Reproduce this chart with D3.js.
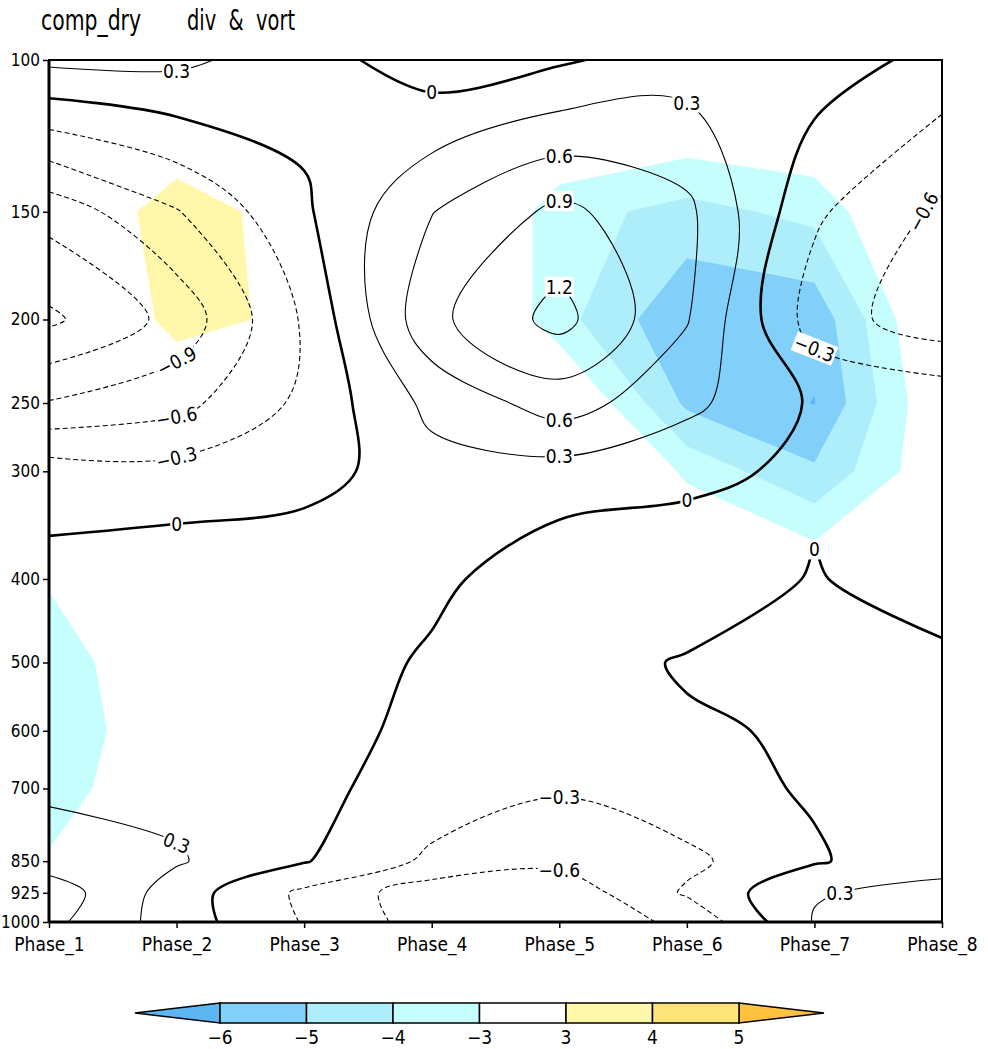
<!DOCTYPE html>
<html>
<head>
<meta charset="utf-8">
<script src="https://cdn.jsdelivr.net/npm/d3@7"></script>
<style>
  body { margin: 0; background: #fff; }
  svg text { font-family: "Liberation Sans Narrow", "DejaVu Sans Condensed", "Liberation Sans", sans-serif; fill: #000; }
</style>
</head>
<body>
<svg id="chart" width="988" height="1049"></svg>
<script>
const phases = ["Phase_1", "Phase_2", "Phase_3", "Phase_4", "Phase_5", "Phase_6", "Phase_7", "Phase_8"];
const levels = [100, 150, 200, 250, 300, 400, 500, 600, 700, 850, 925, 1000];

// divergence (contours), one array per phase, 100 hPa down to 1000 hPa
const divPhase1 = [0.367, -1.09, -1.56, -0.88, -0.15, 0.10, 0.15, 0.20, 0.25, 0.45, 0.78, 0.68];
const divPhase2 = [0.37, -0.62, -1.10, -0.70, -0.20, 0.21, 0.22, 0.22, 0.21, 0.33, 0.15, 0.15];
const divPhase3 = [0.126, -0.047, -0.26, -0.23, -0.13, 0.25, 0.21, 0.15, 0.07, 0.02, -0.36, -0.32];
const divPhase4 = [-0.16, 0.59, 0.82, 0.38, 0.19, 0.08, -0.05, -0.10, -0.12, -0.36, -0.77, -0.74];
const divPhase5 = [-0.04, 0.97, 1.30, 0.74, 0.18, -0.22, -0.088, -0.15, -0.27, -0.52, -0.80, -0.75];
const divPhase6 = [0.155, 0.67, 0.62, 0.38, 0.05, -0.135, 0.018, -0.022, -0.10, -0.37, -0.26, -0.55];
const divPhase7 = [0.16, -0.25, -0.44, -0.04, -0.04, 0.015, 0.06, 0.022, 0.028, -0.03, 0.28, 0.32];
const divPhase8 = [-0.10, -0.66, -0.79, -0.07, -0.10, -0.12, 0.05, 0.10, 0.15, 0.20, 0.38, 0.35];

// vorticity (shading), one array per phase, 100 hPa down to 1000 hPa
const vortPhase1 = [0.5, 1.66, 0.56, 0.2, -0.5, -2.9, -3.6, -3.8, -3.5, -2.9, -2.0, -1.5];
const vortPhase2 = [0.87, 3.6, 3.5, 1.65, 0.5, -1.0, -1.93, -2.04, -2.03, -1.5, -1.0, -0.8];
const vortPhase3 = [0.8, 2.42, 2.65, 1.5, 0.5, -0.5, -1.0, -1.0, -0.8, -0.5, -0.3, -0.2];
const vortPhase4 = [0.2, -0.74, -0.63, -0.8, 0.0, 0.5, 0.3, 0.0, -0.5, -0.5, -0.3, -0.2];
const vortPhase5 = [-0.27, -3.6, -3.63, -1.5, 0.5, 0.3, 0.0, -0.5, -0.5, -0.3, -0.2, 0.0];
const vortPhase6 = [-0.55, -4.35, -5.86, -5.2, -3.3, -0.7, 0.0, 0.2, -0.3, -0.5, -0.3, -0.2];
const vortPhase7 = [-0.62, -3.71, -5.67, -6.03, -4.85, -2.0, -0.5, 0.0, -0.5, -1.0, -0.5, -0.3];
const vortPhase8 = [-0.3, -1.08, -1.5, -1.9, -2.1, -1.0, -0.5, -0.3, -0.3, -0.3, -0.2, 0.0];

const contourLevels = [-1.5, -1.2, -0.9, -0.6, -0.3, 0, 0.3, 0.6, 0.9, 1.2];
const shadeBreaks = [-6, -5, -4, -3, 3, 4, 5];
const shadeColors = ["#5cb6f2", "#82d0fa", "#aeeefa", "#c6fdfd", "#ffffff", "#fff8aa", "#ffe47a", "#ffc23f"];

// contour labels: value, phase number, pressure near which the label sits
const labelValues = [0.3, 0, 0.3, 0.6, 0.9, 1.2, 0.6, 0.3, -0.6, -0.3, 0, 0, 0, -0.9, -0.6, -0.3, 0.3, -0.3, -0.6, 0.3];
const labelPhases = [2, 4, 6, 5, 5, 5, 5, 5, 7.85, 7, 6, 7, 2, 2, 2, 2, 2, 5, 5, 7.2];
const labelPres = [106, 109, 112, 132, 146, 184, 260, 287, 150, 217, 324, 373, 345, 225, 260, 290, 810, 718, 868, 925];

const div = [divPhase1, divPhase2, divPhase3, divPhase4, divPhase5, divPhase6, divPhase7, divPhase8];
const vort = [vortPhase1, vortPhase2, vortPhase3, vortPhase4, vortPhase5, vortPhase6, vortPhase7, vortPhase8];
const nx = phases.length, ny = levels.length;

const svg = d3.select("#chart");
const margin = {top: 60, right: 46, bottom: 127, left: 49};
const width = +svg.attr("width") - margin.left - margin.right;
const height = +svg.attr("height") - margin.top - margin.bottom;
const g = svg.append("g").attr("transform", `translate(${margin.left},${margin.top})`);

const x = d3.scalePoint().domain(phases).range([0, width]);
const y = d3.scaleLog().domain([100, 1000]).range([0, height]);
// grid index -> pixel, linear between neighbouring grid lines
const xIdx = d3.scaleLinear().domain([0, nx - 1]).range([x(phases[0]), x(phases[nx - 1])]);
const yIdx = d3.scaleLinear().domain(d3.range(ny)).range(levels.map(p => y(p)));

g.append("clipPath").attr("id", "plot-clip")
  .append("rect").attr("width", width).attr("height", height);
const plot = g.append("g").attr("clip-path", "url(#plot-clip)");

// shading with d3.contours on the raw grid
const clampX = v => Math.max(0, Math.min(nx - 1, v));
const clampY = v => Math.max(0, Math.min(ny - 1, v));
const gridPath = d3.geoPath(d3.geoTransform({
  point(px, py) { this.stream.point(xIdx(clampX(px - 0.5)), yIdx(clampY(py - 0.5))); }
}));
function gridValues(field, sign) {
  const vals = [];
  for (let j = 0; j < ny; j++) for (let i = 0; i < nx; i++) vals.push(sign * field[i][j]);
  return vals;
}
const negShades = d3.contours().size([nx, ny]).thresholds([3, 4, 5, 6])(gridValues(vort, -1));
const posShades = d3.contours().size([nx, ny]).thresholds([3, 4, 5])(gridValues(vort, 1));

plot.selectAll(".neg").data(negShades).join("path")
  .attr("class", "neg")
  .attr("d", gridPath)
  .attr("fill", d => shadeColors[shadeBreaks.indexOf(-d.value)])
  .attr("stroke", "none");

plot.selectAll(".pos").data(posShades).join("path")
  .attr("class", "pos")
  .attr("d", gridPath)
  .attr("fill", d => shadeColors[shadeBreaks.indexOf(d.value) + 1])
  .attr("stroke", "none");

// contour lines: marching squares, saddles resolved by the cell mean
function isolines(field, level) {
  const val = (i, j) => field[i][j];
  const points = new Map();
  const hKey = (i, j) => {
    const k = `h${i}_${j}`;
    if (!points.has(k)) points.set(k, [i + (level - val(i, j)) / (val(i + 1, j) - val(i, j)), j]);
    return k;
  };
  const vKey = (i, j) => {
    const k = `v${i}_${j}`;
    if (!points.has(k)) points.set(k, [i, j + (level - val(i, j)) / (val(i, j + 1) - val(i, j))]);
    return k;
  };
  const segs = [];
  for (let j = 0; j < ny - 1; j++) {
    for (let i = 0; i < nx - 1; i++) {
      const a = val(i, j), b = val(i + 1, j), c = val(i + 1, j + 1), d = val(i, j + 1);
      const code = (a >= level) * 8 + (b >= level) * 4 + (c >= level) * 2 + (d >= level);
      if (code === 0 || code === 15) continue;
      const T = () => hKey(i, j), B = () => hKey(i, j + 1), L = () => vKey(i, j), R = () => vKey(i + 1, j);
      const midAbove = (a + b + c + d) / 4 >= level;
      switch (code) {
        case 1: case 14: segs.push([L(), B()]); break;
        case 2: case 13: segs.push([B(), R()]); break;
        case 3: case 12: segs.push([L(), R()]); break;
        case 4: case 11: segs.push([T(), R()]); break;
        case 6: case 9: segs.push([T(), B()]); break;
        case 7: case 8: segs.push([L(), T()]); break;
        case 5:
          if (midAbove) { segs.push([L(), T()]); segs.push([B(), R()]); }
          else { segs.push([T(), R()]); segs.push([L(), B()]); }
          break;
        case 10:
          if (midAbove) { segs.push([T(), R()]); segs.push([L(), B()]); }
          else { segs.push([L(), T()]); segs.push([B(), R()]); }
          break;
      }
    }
  }
  const adj = new Map();
  segs.forEach((s, n) => s.forEach(k => {
    if (!adj.has(k)) adj.set(k, []);
    adj.get(k).push(n);
  }));
  const used = segs.map(() => false);
  function walk(startKey, n0) {
    const keys = [startKey];
    let key = startKey, n = n0;
    while (n != null && !used[n]) {
      used[n] = true;
      key = segs[n][0] === key ? segs[n][1] : segs[n][0];
      keys.push(key);
      n = adj.get(key).find(m => !used[m]);
    }
    return keys;
  }
  const chains = [];
  adj.forEach((list, k) => {
    if (list.length === 1 && !used[list[0]]) chains.push({closed: false, keys: walk(k, list[0])});
  });
  segs.forEach((s, n) => {
    if (!used[n]) chains.push({closed: true, keys: walk(s[0], n).slice(0, -1)});
  });
  return chains.map(ch => ({
    closed: ch.closed,
    points: ch.keys.map(k => points.get(k)).map(([i, j]) => [xIdx(i), yIdx(j)])
  }));
}

const openLine = d3.line().curve(d3.curveCatmullRom.alpha(0.5));
const closedLine = d3.line().curve(d3.curveCatmullRomClosed.alpha(0.5));
const linesByLevel = new Map();
contourLevels.forEach(level => {
  const chains = isolines(div, level);
  linesByLevel.set(level, chains);
  plot.append("g")
    .selectAll("path").data(chains).join("path")
    .attr("d", d => (d.closed ? closedLine : openLine)(d.points))
    .attr("fill", "none")
    .attr("stroke", "#000")
    .attr("stroke-width", level === 0 ? 2.6 : 1.1)
    .attr("stroke-dasharray", level < 0 ? "5,3" : null)
    .attr("stroke-linejoin", "round");
});

// contour labels (some follow the line, the rest stay upright)
const followLine = [false, false, false, false, false, false, false, false, true, true, false, false, false, true, true, true, true, false, false, false];
const fmt = d3.format(".1f");
labelValues.forEach((v, n) => {
  const tx = xIdx(labelPhases[n] - 1), ty = y(labelPres[n]);
  let best = null, bestD = Infinity;
  (linesByLevel.get(v) || []).forEach(ch => ch.points.forEach((p, k) => {
    const dd = (p[0] - tx) ** 2 + (p[1] - ty) ** 2;
    if (dd < bestD) { bestD = dd; best = {ch, k}; }
  }));
  if (!best) return;
  const pts = best.ch.points, k = best.k, m = pts.length;
  const prev = pts[k > 0 ? k - 1 : (best.ch.closed ? m - 1 : k)];
  const next = pts[k < m - 1 ? k + 1 : (best.ch.closed ? 0 : k)];
  let ang = Math.atan2(next[1] - prev[1], next[0] - prev[0]) * 180 / Math.PI;
  if (ang > 90) ang -= 180;
  if (ang < -90) ang += 180;
  if (!followLine[n]) ang = 0;
  const lab = g.append("g")
    .attr("transform", `translate(${pts[k][0]},${pts[k][1]}) rotate(${ang})`);
  const rect = lab.append("rect").attr("fill", "#fff");
  const txt = lab.append("text")
    .attr("text-anchor", "middle")
    .attr("dy", "0.36em")
    .style("font-size", "19px")
    .text(v === 0 ? "0" : fmt(v));
  const bb = txt.node().getBBox();
  rect.attr("x", bb.x - 1).attr("y", bb.y + 1).attr("width", bb.width + 2).attr("height", bb.height - 2);
});

// frame and axes
g.append("rect")
  .attr("width", width).attr("height", height)
  .attr("fill", "none").attr("stroke", "#000").attr("stroke-width", 2);
g.append("line").attr("x1", 0).attr("x2", 0).attr("y1", 0).attr("y2", height)
  .attr("stroke", "#000").attr("stroke-width", 3);
g.append("line").attr("x1", 0).attr("x2", width).attr("y1", height).attr("y2", height)
  .attr("stroke", "#000").attr("stroke-width", 3);

const yAxis = g.append("g")
  .call(d3.axisLeft(y).tickValues(levels).tickFormat(d3.format("d")).tickSize(6).tickPadding(3));
yAxis.select(".domain").remove();
yAxis.selectAll(".tick line").attr("stroke-width", 1.5);
yAxis.selectAll("text").style("font-size", "17px").style("font-family", null);

const xAxis = g.append("g")
  .attr("transform", `translate(0,${height})`)
  .call(d3.axisBottom(x).tickSize(6).tickPadding(10));
xAxis.select(".domain").remove();
xAxis.selectAll(".tick line").attr("stroke-width", 1.5);
xAxis.selectAll("text").style("font-size", "19px").style("font-family", null);

// title
svg.append("text").attr("x", 41).attr("y", 30)
  .attr("textLength", 100).attr("lengthAdjust", "spacingAndGlyphs")
  .style("font-size", "28px").text("comp_dry");
svg.append("text").attr("x", 187).attr("y", 30)
  .attr("textLength", 108).attr("lengthAdjust", "spacingAndGlyphs")
  .style("font-size", "28px").style("white-space", "pre").text("div  &  vort");

// colour bar
const barTop = 1003, barH = 20, tip = 85;
const bx = d3.scaleLinear().domain([0, shadeBreaks.length - 1]).range([220, 739]);
const bar = svg.append("g");
bar.append("path")
  .attr("d", `M${bx(0)},${barTop}L${bx(0) - tip},${barTop + barH / 2}L${bx(0)},${barTop + barH}Z`)
  .attr("fill", shadeColors[0]).attr("stroke", "#000").attr("stroke-width", 1.5);
bar.append("path")
  .attr("d", `M${bx(6)},${barTop}L${bx(6) + tip},${barTop + barH / 2}L${bx(6)},${barTop + barH}Z`)
  .attr("fill", shadeColors[7]).attr("stroke", "#000").attr("stroke-width", 1.5);
bar.selectAll(".box").data(d3.range(shadeBreaks.length - 1)).join("rect")
  .attr("class", "box")
  .attr("x", d => bx(d)).attr("y", barTop)
  .attr("width", d => bx(d + 1) - bx(d)).attr("height", barH)
  .attr("fill", d => shadeColors[d + 1])
  .attr("stroke", "#000").attr("stroke-width", 1.5);
bar.selectAll(".blab").data(shadeBreaks).join("text")
  .attr("class", "blab")
  .attr("x", (d, i) => bx(i)).attr("y", 1044)
  .attr("text-anchor", "middle")
  .style("font-size", "19px")
  .text(d3.format("d"));
</script>
</body>
</html>
